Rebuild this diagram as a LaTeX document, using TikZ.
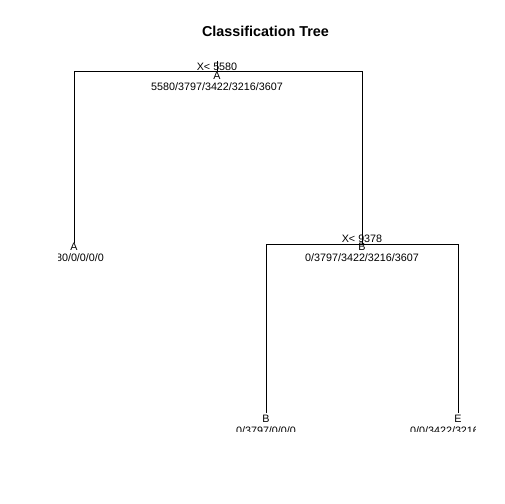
\documentclass[tikz,border=0pt]{standalone}
\usepackage{fontspec}
\setmainfont{Liberation Sans}
\begin{document}
\begin{tikzpicture}[x=1bp,y=-1bp,
  lab/.style={inner sep=0pt, font=\fontsize{10.8}{12}\selectfont},
  edge/.style={line width=1bp, black}]
\useasboundingbox (0,0) rectangle (504,504);
\fill[white] (0,0) rectangle (504,504);
\node[inner sep=0pt, font=\fontsize{14.4}{16}\selectfont\bfseries] (title) at (265.5,31) {Classification Tree};
\begin{scope}
\clip (58,0) rectangle (475,431.5);
% tree coordinates
\coordinate (rtick) at (217,61);
\coordinate (r) at (217,72);
\coordinate (rl) at (74,72);
\coordinate (rr) at (362,72);
\coordinate (n2) at (74,243);
\coordinate (n3) at (362,244);
\coordinate (n3l) at (266,244);
\coordinate (n3r) at (458,244);
\coordinate (n6) at (266,413);
\coordinate (n7) at (458,413);
% connectors
\draw[edge] (rtick) -- (r);
\draw[edge] (n2) -- (rl) -- (rr) -- (n3);
\draw[edge] (n6) -- (n3l) -- (n3r) -- (n7);
% labels
\node[lab] (rsplit) at (217,66.5) {X< 5580};
\node[lab] (rclass) at (217,75.5) {A};
\node[lab] (rcount) at (217,86.5) {5580/3797/3422/3216/3607};
\node[lab] (n3split) at (362,238.5) {X< 9378};
\node[lab] (n3class) at (362,247) {B};
\node[lab] (n3count) at (362,258) {0/3797/3422/3216/3607};
\node[lab] (n2class) at (74,247) {A};
\node[lab] (n2count) at (74,258) {5580/0/0/0/0};
\node[lab] (n6class) at (266,419) {B};
\node[lab] (n6count) at (266,431) {0/3797/0/0/0};
\node[lab] (n7class) at (458,419) {E};
\node[lab] (n7count) at (458,431) {0/0/3422/3216/3607};
\end{scope}
\end{tikzpicture}
\end{document}
